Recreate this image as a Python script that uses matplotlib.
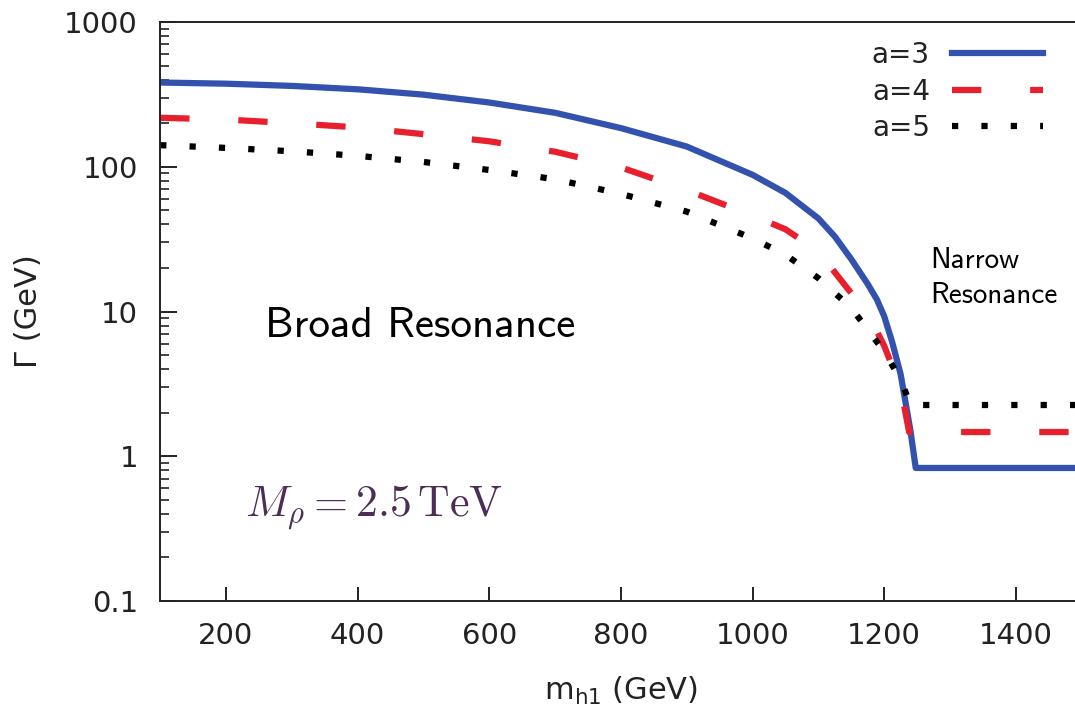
import numpy as np
import matplotlib
matplotlib.use("Agg")
import matplotlib.pyplot as plt
from matplotlib.ticker import LogLocator, NullFormatter

# widths (GeV)
m_a3 = [100, 200, 300, 400, 500, 600, 700, 800, 900, 1000, 1050, 1100, 1125, 1150, 1175, 1189, 1200, 1212, 1225, 1240, 1248, 1500]
g_a3 = [382, 375, 362, 343, 315, 278, 236, 185, 138, 88, 66, 44, 33, 23, 15.5, 12.1, 9.3, 6.2, 3.7, 1.5, 0.83, 0.83]

m_a4 = [100, 200, 300, 400, 500, 600, 700, 800, 900, 1000, 1050, 1100, 1150, 1180, 1200, 1225, 1238, 1500]
g_a4 = [218, 212, 200, 187, 168, 150, 127, 99, 69, 46, 37, 26, 13.4, 8.8, 5.8, 3.0, 1.47, 1.47]

m_a5 = [100, 200, 300, 400, 500, 600, 700, 800, 900, 1000, 1050, 1100, 1150, 1200, 1225, 1240, 1500]
g_a5 = [141, 135, 128, 119, 108, 95, 82, 65, 49, 32, 24.7, 17, 10.6, 5.3, 3.4, 2.26, 2.26]

xticks = [200, 400, 600, 800, 1000, 1200, 1400]
yticks = [0.1, 1, 10, 100, 1000]
ytick_labels = ["0.1", "1", "10", "100", "1000"]

fig = plt.figure(figsize=(10.75, 7.13), dpi=100)
ax = fig.add_axes([0.149, 0.1571, 0.851, 0.812])

lw = 4.5
ax.plot(m_a3, g_a3, color="#3352ae", lw=lw, label="a=3", solid_joinstyle="round")
ax.plot(m_a4, g_a4, color="#e8202e", lw=lw, linestyle=(0, (4.7, 7.8)), label="a=4")
ax.plot(m_a5, g_a5, color="black", lw=lw, linestyle=(0, (1, 3.7)), label="a=5")

ax.set_yscale("log")
ax.set_xlim(100, 1490)
ax.set_ylim(0.1, 1000)
ax.set_xticks(xticks)
ax.set_yticks(yticks, ytick_labels)
ax.yaxis.set_minor_locator(LogLocator(base=10, subs=np.arange(2, 10)))
ax.yaxis.set_minor_formatter(NullFormatter())

ax.tick_params(axis="both", which="major", direction="in", labelsize=21,
               labelcolor="#222222", color="#222222", width=1.4)
ax.tick_params(axis="y", which="major", length=12, pad=16)
ax.tick_params(axis="x", which="major", length=10, pad=15)
ax.tick_params(axis="y", which="minor", direction="in", length=6.5, width=1.2, color="#222222")

for s in ["left", "bottom", "top"]:
    ax.spines[s].set_linewidth(1.4)
    ax.spines[s].set_color("#222222")
ax.spines["right"].set_visible(False)

ax.set_xlabel("m$_{\\mathregular{h1}}$ (GeV)", fontsize=22, color="#222222")
ax.xaxis.set_label_coords(0.504, -0.128)
ax.set_ylabel("Γ (GeV)", fontsize=22, color="#222222")
ax.yaxis.set_label_coords(-0.128, 0.5)

ax.text(259, 6.7, "Broad Resonance", fontfamily="cmss10", fontsize=31, va="baseline")
ax.text(1270, 20.1, "Narrow", fontfamily="cmss10", fontsize=21, va="baseline")
ax.text(1270, 11.5, "Resonance", fontfamily="cmss10", fontsize=21, va="baseline")
ax.text(229, 0.386, r"$M_\rho = 2.5\,\mathrm{TeV}$", math_fontfamily="cm",
        fontsize=31.5, color="#4b2d55", va="baseline")

ax.legend(loc="upper right", bbox_to_anchor=(1043 / 1075, 1 - 41 / 713),
          bbox_transform=fig.transFigure, frameon=False, markerfirst=False,
          fontsize=20, handlelength=3.27, handletextpad=0.8, labelspacing=0.31,
          borderpad=0, borderaxespad=0, labelcolor="#222222")

fig.savefig("out.png", dpi=100)
